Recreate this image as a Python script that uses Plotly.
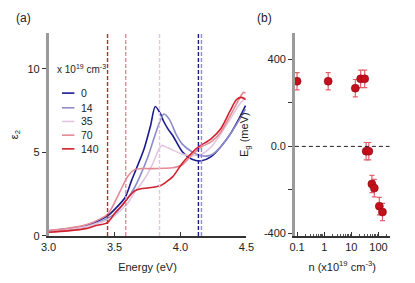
import plotly.graph_objects as go

# ---------------- Panel (a) data ----------------
densities = ["0", "14", "35", "70", "140"]
colors = ["#1a1a8e", "#8c8ccc", "#e2c6e0", "#e38a96", "#d2202c"]

E0 = [3.0, 3.145, 3.29, 3.348, 3.447, 3.507, 3.58, 3.628, 3.664, 3.725, 3.773, 3.809, 3.846, 3.87, 3.906, 3.942, 4.014, 4.087, 4.159, 4.232, 4.304, 4.377, 4.449, 4.493]
eps0 = [0.30, 0.42, 0.62, 0.8, 1.2, 1.64, 2.3, 3.3, 4.0, 5.24, 6.6, 7.75, 7.35, 6.9, 6.4, 6.0, 5.04, 4.59, 4.5, 4.75, 5.33, 6.1, 7.1, 7.8]

E14 = [3.0, 3.145, 3.29, 3.348, 3.447, 3.507, 3.556, 3.604, 3.652, 3.70, 3.749, 3.797, 3.846, 3.875, 3.918, 3.966, 4.014, 4.087, 4.159, 4.232, 4.304, 4.377, 4.449, 4.493]
eps14 = [0.30, 0.40, 0.58, 0.72, 1.05, 1.35, 1.8, 2.3, 2.9, 3.7, 4.65, 5.8, 6.9, 7.3, 6.95, 6.1, 5.5, 5.04, 4.8, 4.85, 5.33, 6.1, 7.0, 7.6]

E35 = [3.0, 3.145, 3.29, 3.348, 3.447, 3.507, 3.556, 3.604, 3.652, 3.70, 3.749, 3.797, 3.833, 3.857, 3.906, 3.942, 4.014, 4.087, 4.159, 4.232, 4.304, 4.377, 4.449, 4.493]
eps35 = [0.30, 0.40, 0.56, 0.70, 0.95, 1.25, 1.6, 2.0, 2.6, 3.1, 3.7, 4.46, 5.14, 5.42, 5.28, 5.14, 4.9, 4.8, 4.9, 5.33, 6.1, 7.0, 7.9, 8.3]

E70 = [3.0, 3.145, 3.29, 3.348, 3.447, 3.507, 3.556, 3.604, 3.652, 3.70, 3.797, 3.87, 3.942, 4.014, 4.087, 4.159, 4.232, 4.304, 4.377, 4.449, 4.478, 4.493]
eps70 = [0.32, 0.45, 0.68, 0.85, 1.3, 2.1, 2.9, 3.6, 3.97, 4.03, 4.03, 4.05, 4.08, 4.26, 4.85, 5.33, 5.63, 6.2, 7.2, 8.26, 8.6, 8.55]

E140 = [3.0, 3.145, 3.29, 3.348, 3.447, 3.507, 3.556, 3.604, 3.652, 3.70, 3.749, 3.797, 3.846, 3.893, 3.942, 4.014, 4.087, 4.136, 4.232, 4.304, 4.377, 4.425, 4.462, 4.493]
eps140 = [0.22, 0.30, 0.45, 0.6, 0.8, 1.42, 1.82, 2.3, 2.7, 2.83, 2.87, 2.92, 3.0, 3.24, 3.55, 4.36, 4.98, 5.33, 5.82, 6.4, 7.5, 8.17, 8.3, 8.17]

energies = [E0, E14, E35, E70, E140]
spectra = [eps0, eps14, eps35, eps70, eps140]

# Band-gap positions (dashed lines), one per density
gap_E = [4.136, 4.159, 3.841, 3.585, 3.447]

# ---------------- Panel (b) data ----------------
n_vals = [0.1, 1.4, 14, 22, 31, 35, 44, 57, 70, 107, 140]
Eg_vals = [300, 300, 268, 311, 311, -22, -22, -173, -192, -275, -302]
Eg_err = [40, 40, 40, 40, 40, 40, 40, 40, 40, 40, 40]

FONT = "Liberation Sans, Arial, sans-serif"
OFF = 8                      # page body margin of the browser
W, H = 415 - OFF, 283 - OFF  # figure size that fits the window
dark = "#333333"
gray = "#9a9a9a"


def px(x):
    return (x - OFF) / W


def py(y):
    return 1 - (y - OFF) / H


fig = go.Figure()

for i in range(len(densities)):
    fig.add_trace(go.Scatter(
        x=energies[i], y=spectra[i], mode="lines",
        line=dict(color=colors[i], width=1.6, shape="spline", smoothing=0.8),
        name=densities[i], showlegend=False, xaxis="x", yaxis="y"))

for i in range(len(densities)):
    fig.add_shape(type="line", xref="x", yref="y domain",
                  x0=gap_E[i], x1=gap_E[i], y0=0, y1=1,
                  line=dict(color=colors[i], width=1.4, dash="4px,2px"))

fig.add_trace(go.Scatter(
    x=n_vals, y=Eg_vals, mode="markers",
    marker=dict(size=8, color="#c4101c", line=dict(color="#8a0a12", width=0.6)),
    error_y=dict(type="data", array=Eg_err, color="#e0606c", thickness=1.2, width=2.5),
    showlegend=False, xaxis="x2", yaxis="y2"))

fig.add_shape(type="line", xref="x2 domain", yref="y2", x0=0, x1=1, y0=0, y1=0,
              line=dict(color="#222222", width=1, dash="4px,3px"))

ydom = [py(241), py(34)]
tickfont = dict(family=FONT, size=11, color="#222")

fig.update_layout(
    width=W, height=H, margin=dict(l=0, r=0, t=0, b=0),
    paper_bgcolor="white", plot_bgcolor="white",
    font=dict(family=FONT, size=11, color="#222"),
    xaxis=dict(domain=[px(40), px(247)], range=[3.0, 4.5], anchor="y",
               tickvals=[3.0, 3.5, 4.0, 4.5], ticktext=["3.0", "3.5", "4.0", "4.5"],
               ticks="inside", ticklen=4, tickcolor=dark, showline=True,
               linecolor=dark, linewidth=1.5, showgrid=False, zeroline=False,
               tickfont=tickfont,
               title=dict(text="Energy (eV)", font=dict(family=FONT, size=11), standoff=11)),
    yaxis=dict(domain=ydom, range=[0, 12.13], anchor="x",
               tickvals=[0, 5, 10], ticks="outside", ticklen=4, tickcolor=dark,
               showline=True, linecolor=gray, linewidth=2.5, showgrid=False,
               zeroline=False, tickfont=tickfont,
               title=dict(text="ε<sub>2</sub>", font=dict(family=FONT, size=11), standoff=12)),
    xaxis3=dict(overlaying="x", matches="x", anchor="y", side="top",
                range=[3.0, 4.5], tickvals=[3.0, 3.5, 4.0, 4.5], ticks="inside",
                ticklen=4, tickcolor=dark, showticklabels=False, showline=True,
                linecolor=gray, linewidth=2, showgrid=False, zeroline=False),
    yaxis3=dict(overlaying="y", matches="y", anchor="x", side="right",
                range=[0, 12.13], tickvals=[0, 5, 10], ticks="inside", ticklen=4,
                tickcolor=dark, showticklabels=False, showline=True,
                linecolor=dark, linewidth=1.5, showgrid=False, zeroline=False),
    xaxis2=dict(domain=[px(297.7), px(396.7)], type="log", range=[-1.08, 2.405],
                anchor="y2", dtick=1, ticks="inside", ticklen=4, tickcolor=dark,
                minor=dict(ticks="inside", ticklen=2.5, tickcolor="#555", showgrid=False),
                showline=True, linecolor=dark, linewidth=1.5, showgrid=False,
                zeroline=False, tickfont=tickfont,
                title=dict(text="n (x10<sup>19</sup> cm<sup>-3</sup>)",
                           font=dict(family=FONT, size=11), standoff=11)),
    yaxis2=dict(domain=ydom, range=[-412, 520], anchor="x2",
                tickvals=[-400, -200, 0, 200, 400],
                ticktext=["-400", "", "0.0", "", "400"],
                ticks="outside", ticklen=4, tickcolor=dark, showline=True,
                linecolor=gray, linewidth=2.5, showgrid=False, zeroline=False,
                tickfont=tickfont,
                title=dict(text="E<sub>g</sub> (meV)", font=dict(family=FONT, size=11), standoff=14)),
    xaxis4=dict(overlaying="x2", matches="x2", anchor="y2", side="top", type="log",
                range=[-1.08, 2.405], dtick=1, ticks="inside", ticklen=4,
                tickcolor=dark, minor=dict(ticks="inside", ticklen=2.5, tickcolor="#555"),
                showticklabels=False, showline=True, linecolor=gray, linewidth=2,
                showgrid=False, zeroline=False),
    yaxis4=dict(overlaying="y2", matches="y2", anchor="x2", side="right",
                range=[-412, 520], tickvals=[-400, -200, 0, 200, 400], ticks="inside",
                ticklen=4, tickcolor=dark, showticklabels=False, showline=True,
                linecolor=dark, linewidth=1.5, showgrid=False, zeroline=False),
)

ann = [
    dict(text="(a)", x=px(14), y=py(18), xref="paper", yref="paper",
         showarrow=False, font=dict(family=FONT, size=12), xanchor="center", yanchor="middle"),
    dict(text="(b)", x=px(266), y=py(18), xref="paper", yref="paper",
         showarrow=False, font=dict(family=FONT, size=12), xanchor="center", yanchor="middle"),
    dict(text="x 10<sup>19</sup> cm<sup>-3</sup>", x=px(47), y=py(70),
         xref="paper", yref="paper", showarrow=False, xanchor="left", yanchor="middle",
         font=dict(family=FONT, size=10)),
]
leg_y = [95, 110, 124, 138, 152]
for i in range(len(densities)):
    yy = py(leg_y[i])
    fig.add_shape(type="line", xref="paper", yref="paper", x0=px(54), x1=px(67),
                  y0=yy, y1=yy, line=dict(color=colors[i], width=1.6))
    ann.append(dict(text=densities[i], x=px(72), y=yy, xref="paper", yref="paper",
                    showarrow=False, xanchor="left", yanchor="middle",
                    font=dict(family=FONT, size=10.5)))
fig.update_layout(annotations=ann)

fig.write_html("out.html")
